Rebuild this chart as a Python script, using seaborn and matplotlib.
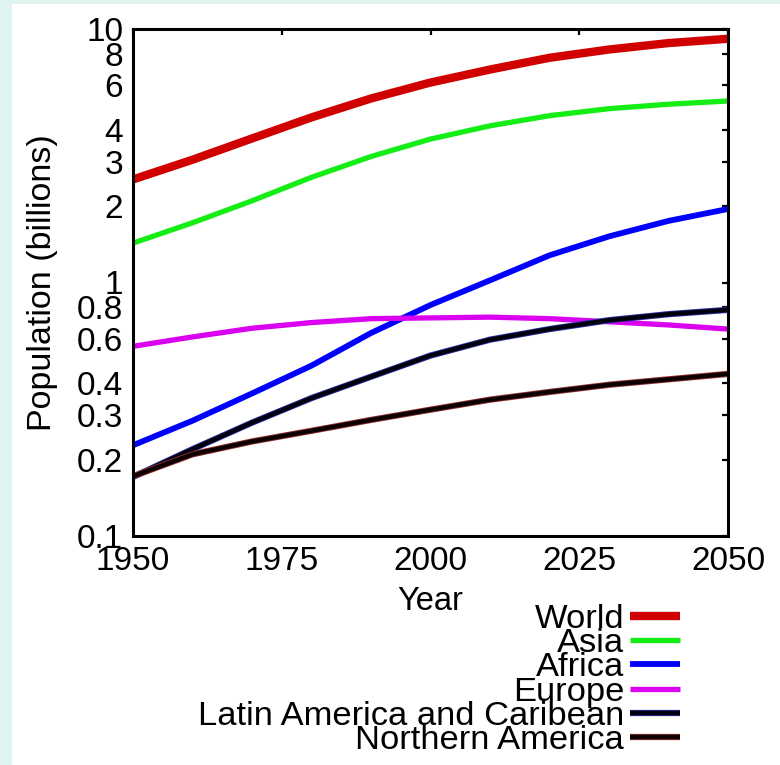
import matplotlib
matplotlib.use("Agg")
import matplotlib.pyplot as plt
import matplotlib.patheffects as pe
from matplotlib.patches import Rectangle
from matplotlib.ticker import FixedLocator, FixedFormatter, NullLocator
import numpy as np
import pandas as pd
import seaborn as sns

# ---------------- data (billions) ----------------
years = [1950, 1960, 1970, 1980, 1990, 2000, 2010, 2020, 2030, 2040, 2050]
world = [2.55, 3.05, 3.70, 4.48, 5.32, 6.15, 6.92, 7.70, 8.30, 8.80, 9.15]
asia = [1.43, 1.72, 2.10, 2.60, 3.14, 3.68, 4.15, 4.55, 4.85, 5.05, 5.20]
africa = [0.228, 0.285, 0.365, 0.47, 0.632, 0.815, 1.02, 1.28, 1.52, 1.75, 1.95]
europe = [0.56, 0.61, 0.66, 0.695, 0.72, 0.725, 0.73, 0.72, 0.70, 0.68, 0.655]
latin_america = [0.171, 0.22, 0.28, 0.35, 0.425, 0.515, 0.595, 0.655, 0.71, 0.75, 0.78]
northern_america = [0.172, 0.21, 0.236, 0.26, 0.287, 0.315, 0.345, 0.37, 0.395, 0.415, 0.436]

regions = ["World", "Asia", "Africa", "Europe",
           "Latin America and Caribean", "Northern America"]
series = [world, asia, africa, europe, latin_america, northern_america]

y_ticks = [0.1, 0.2, 0.3, 0.4, 0.6, 0.8, 1, 2, 3, 4, 6, 8, 10]
y_tick_labels = ["0.1", "0.2", "0.3", "0.4", "0.6", "0.8", "1", "2", "3", "4", "6", "8", "10"]
x_ticks = [1950, 1975, 2000, 2025, 2050]
x_tick_labels = ["1950", "1975", "2000", "2025", "2050"]

df = pd.DataFrame({
    "Year": np.tile(years, len(regions)),
    "Population": np.concatenate(series),
    "Region": np.repeat(regions, len(years)),
})

# ---------------- styles ----------------
colors = {"World": "#d10000", "Asia": "#14ee14", "Africa": "#0000ff",
          "Europe": "#da00f0", "Latin America and Caribean": "#00000c",
          "Northern America": "#0c0000"}
widths = {"World": 6.0, "Asia": 3.8, "Africa": 4.2, "Europe": 3.8,
          "Latin America and Caribean": 3.2, "Northern America": 3.2}
outline = {"Latin America and Caribean": "#2a2aa0", "Northern America": "#903030"}

sns.set_theme(style="white")
plt.rcParams["font.family"] = ["Liberation Sans", "DejaVu Sans"]
plt.rcParams["axes.unicode_minus"] = False

W, H = 780, 765
fig = plt.figure(figsize=(W / 100, H / 100), dpi=100)
fig.patch.set_facecolor("#dff4f1")
fig.patches.append(Rectangle((12 / W, 0), 1 - 12 / W, 1 - 4 / H,
                             transform=fig.transFigure, facecolor="white",
                             edgecolor="none", zorder=-5))

ax_l, ax_r, ax_t, ax_b = 133, 728, 29, 536
ax = fig.add_axes([ax_l / W, 1 - ax_b / H, (ax_r - ax_l) / W, (ax_b - ax_t) / H])
ax.set_facecolor("white")

for r in regions:
    sub = df[df["Region"] == r]
    sns.lineplot(data=sub, x="Year", y="Population", color=colors[r],
                 linewidth=widths[r], label=r, ax=ax, legend=False,
                 solid_capstyle="butt")
    line = ax.get_lines()[-1]
    line.set_clip_on(False)
    if r in outline:
        line.set_path_effects([pe.Stroke(linewidth=widths[r] + 1.3, foreground=outline[r]),
                               pe.Normal()])

ax.set_yscale("log")
ax.set_xlim(1950, 2050)
ax.set_ylim(0.1, 10)
ax.yaxis.set_major_locator(FixedLocator(y_ticks))
ax.yaxis.set_major_formatter(FixedFormatter(y_tick_labels))
ax.yaxis.set_minor_locator(NullLocator())
ax.xaxis.set_major_locator(FixedLocator(x_ticks))
ax.xaxis.set_major_formatter(FixedFormatter(x_tick_labels))

for s in ax.spines.values():
    s.set_visible(True)
    s.set_linewidth(2.2)
    s.set_color("black")

ax.tick_params(axis="both", which="major", direction="in", length=4.5, width=1.6,
               color="black", labelsize=24, labelcolor="black",
               top=True, right=True)
ax.tick_params(axis="x", pad=7)
ax.tick_params(axis="y", pad=7)

ax.set_xlabel("Year", fontsize=23.5, color="black")
ax.set_ylabel("Population (billions)", fontsize=24.5, color="black")
ax.xaxis.set_label_coords(0.5, (ax_b - 601) / (ax_b - ax_t))
ax.xaxis.label.set_va("center")
ax.yaxis.set_label_coords((43 - ax_l) / (ax_r - ax_l), 0.5)
ax.yaxis.label.set_va("center")

handles = ax.get_lines()
leg = fig.legend(handles, regions, loc="center right",
                 bbox_to_anchor=(680 / W, 1 - 680 / H),
                 frameon=False, markerfirst=False, fontsize=24.8,
                 handlelength=1.45, handletextpad=0.17, labelspacing=-0.2,
                 borderpad=0, borderaxespad=0)
for t in leg.get_texts():
    t.set_color("black")

fig.savefig("out.png", dpi=100, facecolor=fig.get_facecolor())
